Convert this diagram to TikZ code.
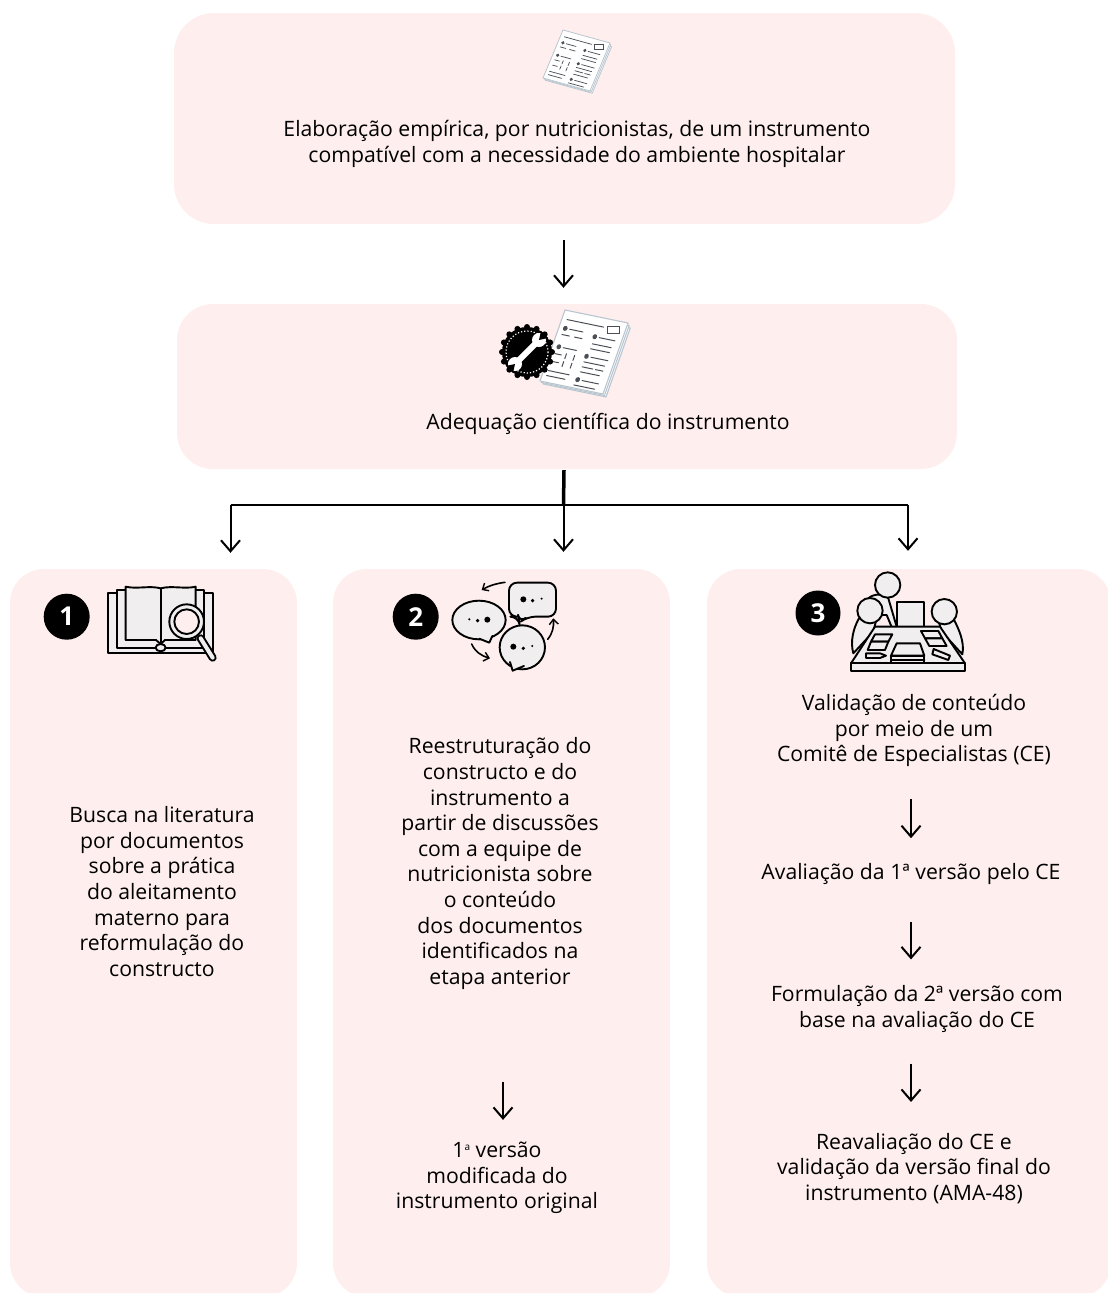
\documentclass[tikz,border=0pt]{standalone}
\usepackage{fontspec}
\setmainfont{Open Sans}
\usetikzlibrary{arrows.meta,calc}
\definecolor{boxpink}{HTML}{FEEEEE}
\definecolor{icongrey}{HTML}{F0EEEE}
\definecolor{docline}{HTML}{B9C6CF}
\definecolor{docink}{HTML}{4A4F55}
\tikzset{
  panel/.style={draw=none,fill=boxpink,rounded corners=#1,inner sep=0pt},
  label/.style={align=center,font=\fontsize{21.2}{25.6}\selectfont,text=black,inner sep=0pt},
  flow/.style={draw=black,line width=2pt,-{Straight Barb[length=11pt,width=19pt,line width=2pt]}},
  badge/.style={circle,fill=black,text=white,inner sep=0pt,minimum size=46pt,font=\fontsize{26}{26}\selectfont\bfseries},
  ink/.style={draw=black,line width=1.9pt,fill=icongrey,line join=round},
  inkline/.style={draw=black,line width=1.9pt,line cap=round,line join=round},
}
\newcommand\docicon[1]{%
  \foreach \o in {0.06,0.03}{
    \draw[docline,line width=#1,fill=white,line join=round] (\o,\o) -- (1+\o,\o) -- (1+\o,1+\o/2) -- (\o,1+\o/2) -- cycle;
  }
  \draw[docline,line width=#1,fill=white,line join=round] (0,0) -- (1,0) -- (1,1) -- (0,1) -- cycle;
  \begin{scope}[docink,line width=0.9*#1,line cap=round]
    \draw (0.08,0.12) -- (0.66,0.12);
    \draw (0.72,0.10) rectangle (0.93,0.16);
    \fill (0.10,0.24) circle (0.035);
    \draw (0.17,0.24) -- (0.38,0.24) (0.08,0.33) -- (0.2,0.33) (0.28,0.33) -- (0.4,0.33);
    \fill (0.58,0.27) circle (0.035);
    \draw (0.65,0.27) -- (0.9,0.27) (0.58,0.37) -- (0.88,0.37) (0.58,0.44) -- (0.88,0.44);
    \fill (0.10,0.50) circle (0.035);
    \draw (0.17,0.50) -- (0.38,0.50) (0.08,0.60) -- (0.18,0.60) (0.08,0.71) -- (0.18,0.71);
    \draw (0.25,0.57) -- (0.25,0.64) (0.25,0.68) -- (0.25,0.75) (0.38,0.57) -- (0.38,0.64) (0.38,0.68) -- (0.38,0.75);
    \fill (0.56,0.55) circle (0.035);
    \draw (0.63,0.55) -- (0.9,0.55) (0.55,0.63) -- (0.88,0.63) (0.55,0.70) -- (0.72,0.70) (0.76,0.70) -- (0.88,0.70) (0.55,0.77) -- (0.85,0.77);
    \draw (0.07,0.84) -- (0.40,0.84) (0.07,0.91) -- (0.36,0.91);
    \fill (0.55,0.88) circle (0.035);
    \draw (0.62,0.88) -- (0.88,0.88) (0.52,0.96) -- (0.85,0.96);
  \end{scope}%
}
\begin{document}
\begin{tikzpicture}[x=1pt,y=-1pt]
\useasboundingbox (0,0) rectangle (1108,1293);
\clip (0,0) rectangle (1108,1293);
% panels
\node[panel=40pt,minimum width=781pt,minimum height=211pt] (top) at (564.5,118.5) {};
\node[panel=36pt,minimum width=780pt,minimum height=165pt] (adapt) at (567,386.5) {};
\node[panel=34pt,minimum width=287pt,minimum height=728pt] (col1) at (153.5,933) {};
\node[panel=34pt,minimum width=337pt,minimum height=728pt] (col2) at (501.5,933) {};
\node[panel=34pt,minimum width=404pt,minimum height=728pt] (col3) at (909,933) {};
% axes for connectors
\coordinate (trunk) at (563.5,0);
\coordinate (leftx) at (230.5,0);
\coordinate (rightx) at (908,0);
\coordinate (bar) at (0,505);
\coordinate (col2x) at (503,0);
\coordinate (col3x) at (911,0);
% texts
\node[label] (t1) at (577,144) {Elaboração empírica, por nutricionistas, de um instrumento\\compatível com a necessidade do ambiente hospitalar};
\node[label] (t2) at (608,423.5) {Adequação científica do instrumento};
\node[label] (a1) at (162,891.5) {Busca na literatura\\por documentos\\sobre a prática\\do aleitamento\\materno para\\reformulação do\\constructo};
\node[label] (b1) at (500,863.5) {Reestruturação do\\constructo e do\\instrumento a\\partir de discussões\\com a equipe de\\nutricionista sobre\\o conteúdo\\dos documentos\\identificados na\\etapa anterior};
\node[label] (b2) at (497,1178) {1\raisebox{7pt}{\fontsize{10}{10}\selectfont a} versão\\modificada do\\instrumento original};
\node[label] (c1) at (914,730.5) {Validação de conteúdo\\por meio de um\\Comitê de Especialistas (CE)};
\node[label] (c2) at (911,874) {Avaliação da 1ª versão pelo CE};
\node[label] (c3) at (917,1009) {Formulação da 2ª versão com\\base na avaliação do CE};
\node[label] (c4) at (914,1168.5) {Reavaliação do CE e\\validação da versão final do\\instrumento (AMA-48)};
% badges
\node[badge] (n1) at (66.7,616.7) {1};
\node[badge] (n2) at (415.7,616.7) {2};
\node[badge,minimum size=45pt] (n3) at (818,613) {3};
% connectors
\draw[flow,shorten <=16pt,shorten >=16pt] (top.south -| trunk) -- (adapt.north -| trunk);
\draw[line width=3.5pt] (adapt.south -| trunk) ++(0.5,1) -- (bar -| trunk);
\draw[line width=1.5pt] (bar -| leftx) -- (bar -| rightx);
\draw[flow,shorten >=16pt] (bar -| leftx) -- (col1.north -| leftx);
\draw[flow,shorten >=17pt] (bar -| trunk) -- (col2.north -| trunk);
\draw[flow,shorten >=18pt] (bar -| rightx) -- (col3.north -| rightx);
\draw[flow,shorten <=92pt,shorten >=22pt] (b1.south -| col2x) -- (b2.north -| col2x);
\draw[flow,shorten <=32pt,shorten >=25pt] (c1.south -| col3x) -- (c2.north -| col3x);
\draw[flow,shorten <=37pt,shorten >=26pt] (c2.south -| col3x) -- (c3.north -| col3x);
\draw[flow,shorten <=31pt,shorten >=31pt] (c3.south -| col3x) -- (c4.north -| col3x);
% document icon, top panel
\begin{scope}[shift={(563,30)},x={(47pt,-13pt)},y={(-20pt,-48pt)}]
  \docicon{0.8pt}
\end{scope}
% document icon, second panel
\begin{scope}[shift={(565,310)},x={(63pt,-13pt)},y={(-25pt,-71pt)}]
  \docicon{1.1pt}
\end{scope}
% gear badge
\begin{scope}[shift={(527,352)}]
  \fill[black] (0,0) circle (25);
  \foreach \a in {0,22.5,...,337.5}{\fill[black] (\a:25) circle (3);}
  \draw[white,line width=1.2pt,dash pattern=on 1.2pt off 2pt] (0,0) circle (21);
  \draw[white,line width=6pt] (-9,9) -- (9,-9);
  \fill[white] (-12,12) circle (7) (12,-12) circle (7);
  \fill[black] (-12,12) -- (-21,14) -- (-14,21) -- cycle;
  \fill[black] (12,-12) -- (21,-14) -- (14,-21) -- cycle;
\end{scope}
% book and magnifier icon
\begin{scope}[shift={(30,570)},x=0.3333pt,y=-0.3333pt]
  \draw[ink] (235,68) -- (550,68) -- (550,248) -- (235,248) -- cycle;
  \draw[ink] (262,60) -- (522,60) -- (522,235) -- (262,235) -- cycle;
  \draw[ink] (287,50) .. controls (320,58) and (360,46) .. (392,55) .. controls (425,46) and (465,58) .. (497,50) -- (497,210) -- (405,210) -- (392,222) -- (378,210) -- (287,210) -- cycle;
  \draw[inkline] (392,55) -- (392,218);
  \draw[ink,fill=icongrey] (392,233) ellipse (15 and 11);
  \draw[line width=8pt,black,line cap=round] (512,205) -- (548,263);
  \draw[line width=4pt,icongrey,line cap=round] (512,205) -- (548,263);
  \draw[ink] (470,155) circle (52);
  \draw[ink,fill=boxpink] (470,155) circle (37);
\end{scope}
% speech bubbles icon
\begin{scope}[shift={(380,570)},x=0.3333pt,y=-0.3333pt]
  \draw[ink,rounded corners=8pt] (387,38) -- (528,38) -- (528,140) -- (442,140) -- (418,158) -- (415,140) -- (387,140) -- cycle;
  \draw[ink] (297,150) ellipse (80 and 58);
  \fill[icongrey] (300,205) -- (328,218) -- (335,195) -- cycle;
  \draw[inkline] (298,206) -- (328,218) -- (337,198);
  \draw[ink] (427,232) ellipse (68 and 66);
  \fill[icongrey] (395,280) -- (398,302) -- (435,285) -- cycle;
  \draw[inkline] (390,276) -- (398,302) -- (432,288);
  \fill (268,148) circle (3.5) (293,152) circle (5.5) (322,149) circle (9);
  \fill (430,88) circle (9) (458,92) circle (5.5) (485,86) circle (3.5);
  \fill (400,230) circle (9) (430,235) circle (5.5) (457,228) circle (3.5);
  \draw[inkline,line width=1.6pt,-{Straight Barb[length=5pt,width=9pt,line width=1.4pt]}] (375,37) .. controls (350,40) and (325,48) .. (305,60);
  \draw[inkline,line width=1.6pt,-{Straight Barb[length=5pt,width=9pt,line width=1.4pt]}] (275,222) .. controls (285,245) and (305,258) .. (330,265);
  \draw[inkline,line width=1.6pt,-{Straight Barb[length=5pt,width=9pt,line width=1.4pt]}] (503,208) .. controls (518,190) and (522,170) .. (520,145);
\end{scope}
% committee icon
\begin{scope}[shift={(785,565)},x=0.3333pt,y=-0.3333pt]
  \draw[ink] (335,112) rectangle (418,185);
  \draw[ink] (250,100) .. controls (265,85) and (300,85) .. (310,100) -- (335,185) -- (325,198) -- (305,150) -- (270,150) -- cycle;
  \draw[ink] (308,60) circle (38);
  \draw[ink] (222,160) .. controls (205,190) and (195,230) .. (205,265) -- (265,200) -- (275,160) -- cycle;
  \draw[ink] (255,137) circle (38);
  \draw[ink] (505,160) .. controls (520,190) and (540,230) .. (532,268) -- (470,200) -- (460,165) -- cycle;
  \draw[ink] (478,140) circle (38);
  \draw[ink] (270,185) -- (465,185) -- (540,295) -- (198,295) -- cycle;
  \draw[ink] (198,295) rectangle (540,318);
  \draw[ink] (270,208) -- (322,208) -- (310,230) -- (258,230) -- cycle;
  \draw[ink] (258,230) -- (310,230) -- (300,255) -- (248,255) -- cycle;
  \draw[ink] (408,198) -- (460,198) -- (472,220) -- (420,220) -- cycle;
  \draw[ink] (420,220) -- (472,220) -- (485,243) -- (433,243) -- cycle;
  \draw[ink] (335,235) -- (405,235) -- (418,272) -- (318,272) -- cycle;
  \draw[ink] (318,272) rectangle (418,295);
  \draw[inkline] (318,284) -- (418,284);
  \draw[ink] (243,265) -- (285,265) -- (303,272) -- (285,279) -- (243,279) -- cycle;
  \draw[ink] (446,252) -- (495,272) -- (490,285) -- (442,268) -- cycle;
\end{scope}
\end{tikzpicture}
\end{document}
